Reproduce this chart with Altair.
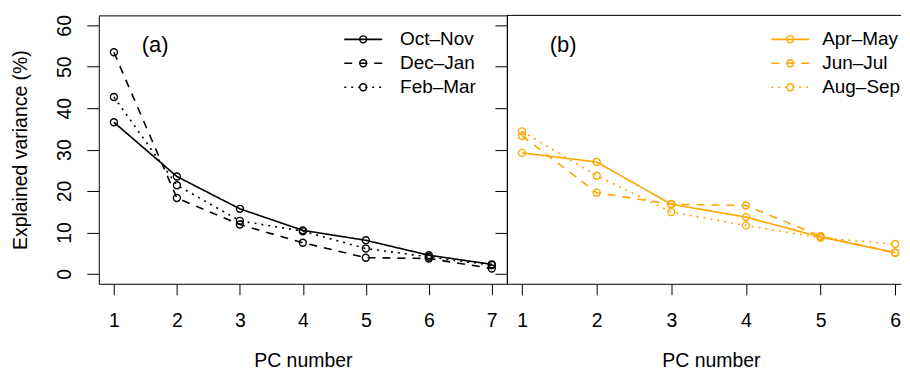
import altair as alt
import pandas as pd

# ---------------- data ----------------
pc_left = [1, 2, 3, 4, 5, 6, 7]
series_left = ["Oct–Nov", "Dec–Jan", "Feb–Mar"]
oct_nov = [36.6, 23.5, 15.7, 10.5, 8.1, 4.5, 2.3]
dec_jan = [53.5, 18.3, 11.9, 7.5, 3.9, 3.7, 1.3]
feb_mar = [42.7, 21.4, 12.8, 10.3, 6.1, 4.1, 2.1]

pc_right = [1, 2, 3, 4, 5, 6]
series_right = ["Apr–May", "Jun–Jul", "Aug–Sep"]
apr_may = [29.2, 27.0, 16.8, 13.7, 8.9, 5.1]
jun_jul = [33.3, 19.6, 16.8, 16.5, 9.1, 5.1]
aug_sep = [34.4, 23.7, 14.9, 11.7, 8.7, 7.2]

y_ticks = [0, 10, 20, 30, 40, 50, 60]
panel_labels = ["(a)", "(b)"]
x_title = "PC number"
y_title = "Explained variance (%)"

# ---------------- styling ----------------
FONT = "Liberation Sans"
FS = 19.5
LFS = 19
ORANGE = "#FFA500"
CIRCLE = "M0.7,0A0.7,0.7,0,1,1,-0.7,0A0.7,0.7,0,1,1,0.7,0"
SEGMENT = "M-3.8,0L3.8,0"
DASHES = [[1, 0], [8, 7], [2, 5]]
H = 269


def long_df(pcs, names, values):
    rows = []
    for name, vals in zip(names, values):
        for p, v in zip(pcs, vals):
            rows.append({"pc": p, "var": v, "series": name, "series2": name})
    return pd.DataFrame(rows)


def panel(df, names, color, xdom, xvals, width, label, legend_x, label_offset, left):
    xaxis = alt.Axis(
        values=xvals, title=x_title, grid=False, domain=not left,
        domainColor="black", tickColor="black", tickSize=11, tickWidth=1,
        labelFont=FONT, labelFontSize=FS, labelColor="black",
        labelBaseline="alphabetic", labelPadding=32, labelFlush=False,
        labelOverlap=False, labelBound=False,
        minExtent=45, maxExtent=45, titlePadding=38, titleBaseline="alphabetic",
        titleFont=FONT, titleFontSize=FS, titleFontWeight="normal",
        titleColor="black", titleX=204.5,
    )
    if left:
        yaxis = alt.Axis(
            values=y_ticks, title=y_title, grid=False, domain=False,
            tickColor="black", tickSize=12, tickWidth=1,
            labelFont=FONT, labelFontSize=FS, labelColor="black",
            labelAngle=270, labelAlign="center", labelBaseline="alphabetic",
            labelPadding=16, labelFlush=False, labelOverlap=False, labelBound=False,
            minExtent=42, maxExtent=42, titlePadding=30,
            titleBaseline="alphabetic", titleAngle=270,
            titleFont=FONT, titleFontSize=FS, titleFontWeight="normal",
            titleColor="black",
        )
    else:
        yaxis = alt.Axis(
            values=y_ticks, title=None, grid=False, domain=True,
            domainColor="black", tickColor="black", tickSize=12, tickWidth=1,
            labels=False,
        )
    x = alt.X("pc:Q", scale=alt.Scale(domain=xdom, nice=False, zero=False), axis=xaxis)
    y = alt.Y("var:Q", scale=alt.Scale(domain=[-2.4, 62.4], nice=False, zero=False), axis=yaxis)

    leg_common = dict(
        orient="none", legendX=legend_x, legendY=14.5, title=None,
        symbolSize=100, labelFont=FONT, labelFontSize=LFS, labelColor="black",
        labelOffset=label_offset, rowPadding=4, padding=0, direction="vertical",
    )
    lines = alt.Chart(df).mark_line(color=color, strokeWidth=1.6).encode(
        x=x, y=y,
        strokeDash=alt.StrokeDash(
            "series:N",
            scale=alt.Scale(domain=names, range=DASHES),
            legend=alt.Legend(symbolType=SEGMENT, symbolStrokeColor=color,
                              symbolStrokeWidth=1.6, **leg_common),
        ),
    )
    points = alt.Chart(df).mark_point(
        color=color, filled=False, size=100, strokeWidth=1.4, opacity=1
    ).encode(
        x=x, y=y,
        shape=alt.Shape(
            "series2:N",
            scale=alt.Scale(domain=names, range=[CIRCLE] * len(names)),
            legend=alt.Legend(symbolStrokeColor=color, symbolFillColor="transparent",
                              symbolStrokeWidth=1.4, labelOpacity=0, **leg_common),
        ),
    )
    tag = alt.Chart(pd.DataFrame({"t": [label]})).mark_text(
        align="left", baseline="middle", font=FONT, fontSize=22, color="black"
    ).encode(x=alt.value(43), y=alt.value(30), text="t:N")

    layers = [lines, points, tag]
    if not left:
        top = alt.Chart(pd.DataFrame({"t": [0]})).mark_rule(
            color="black", strokeWidth=1
        ).encode(x=alt.value(0), x2=alt.value(width), y=alt.value(0))
        layers.append(top)
    ch = alt.layer(*layers).resolve_legend(strokeDash="independent", shape="independent")
    props = dict(width=width, height=H)
    if not left:
        props["view"] = alt.ViewBackground(stroke="transparent")
    return ch.properties(**props)


df_left = long_df(pc_left, series_left, [oct_nov, dec_jan, feb_mar])
df_right = long_df(pc_right, series_right, [apr_may, jun_jul, aug_sep])

left_chart = panel(df_left, series_left, "black", [0.76, 7.24], pc_left, 409,
                   panel_labels[0], 255.5, 27.5, True)
right_chart = panel(df_right, series_right, ORANGE, [0.797, 6.078], pc_right, 395,
                    panel_labels[1], 274.5, 22.5, False)

chart = alt.hconcat(left_chart, right_chart, spacing=0, bounds="flush").properties(
    padding={"left": 2, "top": 5, "right": 0, "bottom": 0}
).configure_view(stroke="black", strokeWidth=1).resolve_scale(
    strokeDash="independent", shape="independent"
)

chart.save("out.html", embed_options={"renderer": "svg", "actions": False})
